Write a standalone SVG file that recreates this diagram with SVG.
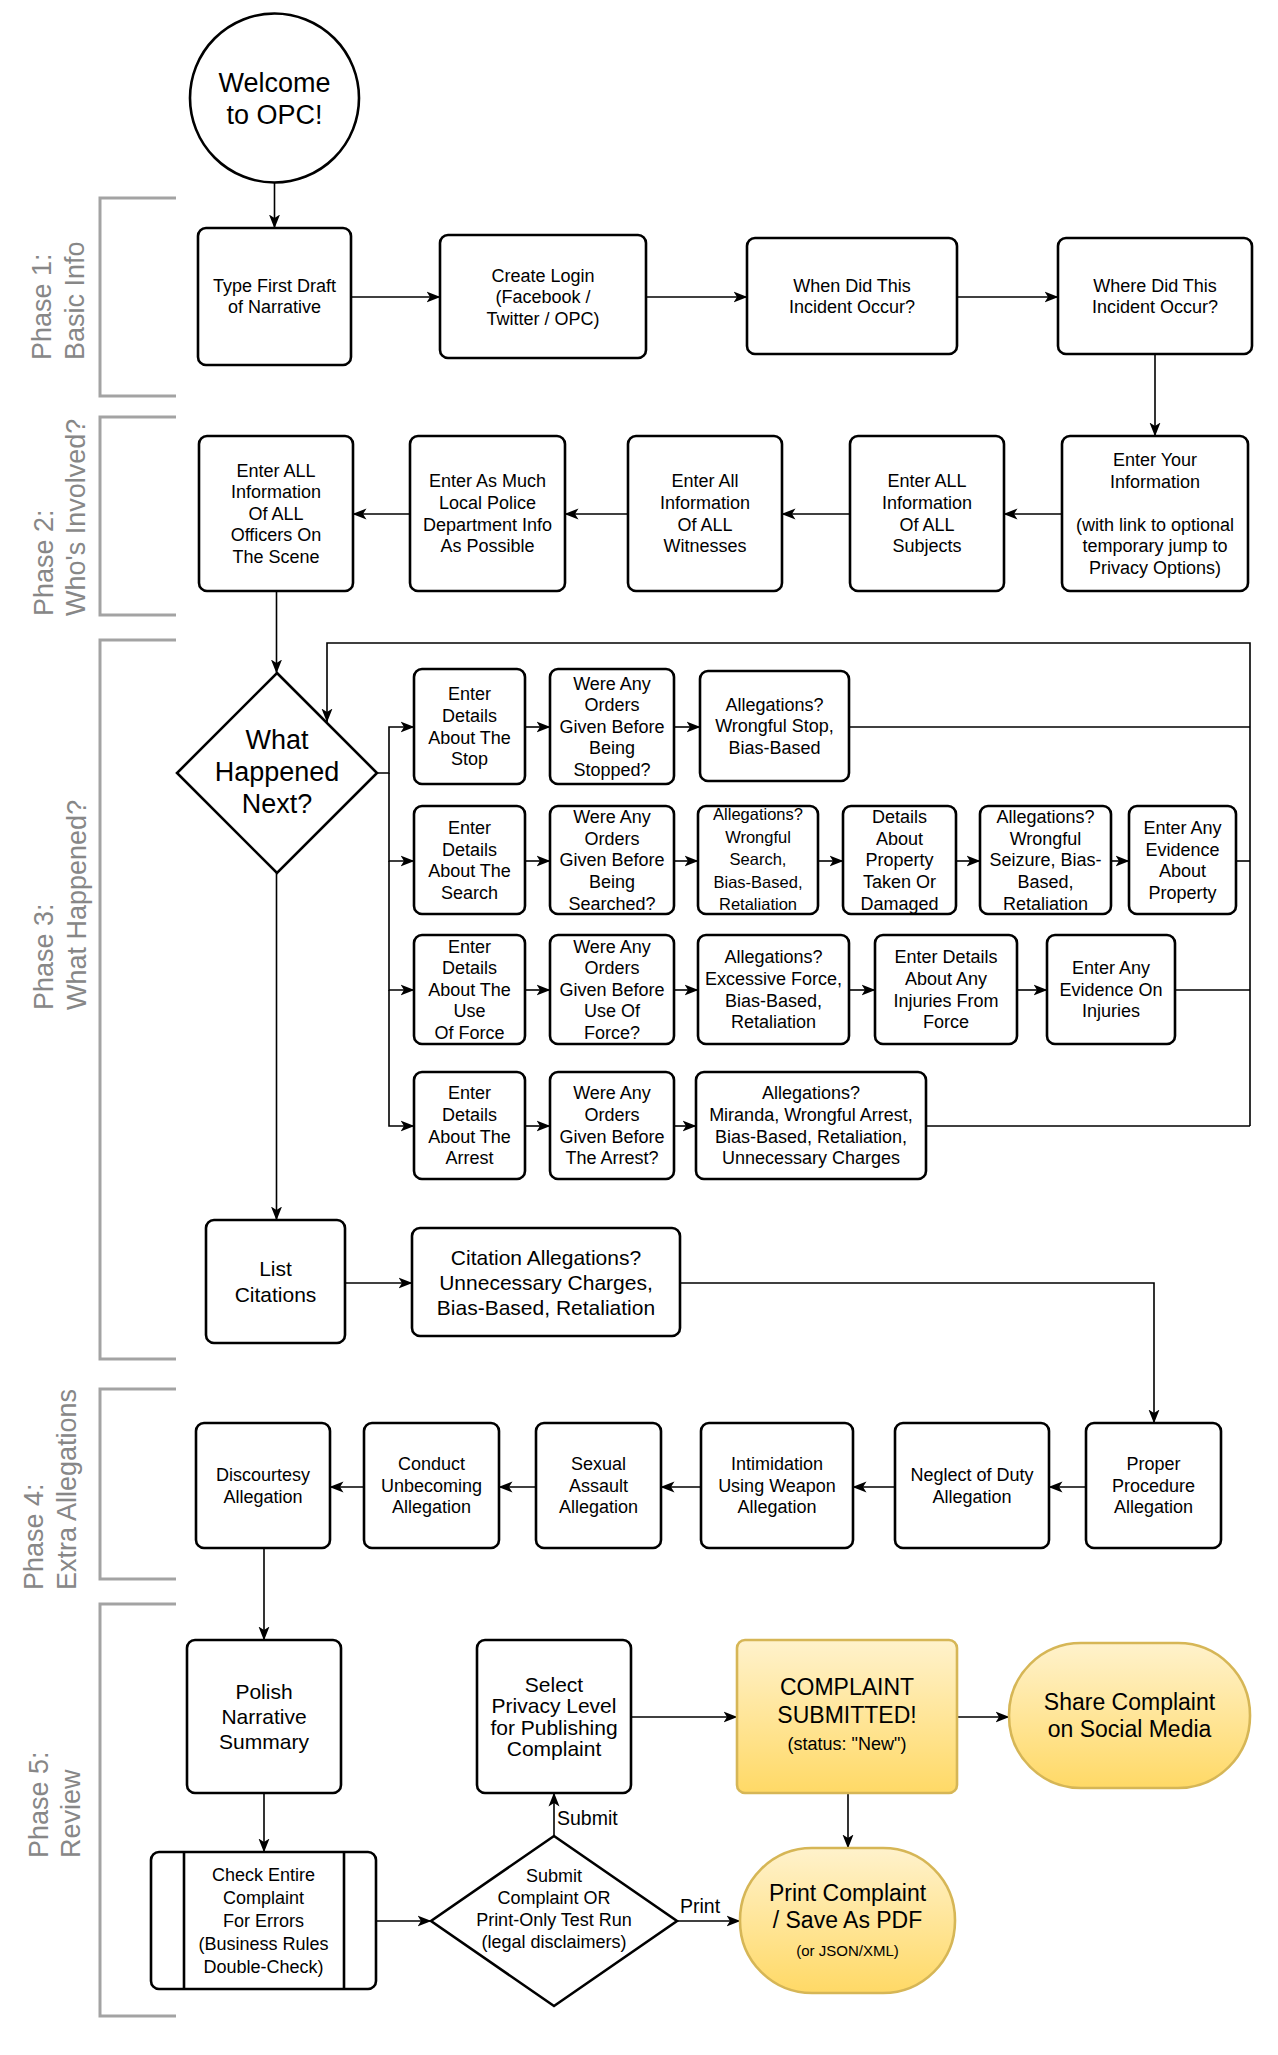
<svg xmlns="http://www.w3.org/2000/svg" width="1278" height="2055" viewBox="0 0 1278 2055">
<defs>
<style>
.n{fill:#fff;stroke:#000;stroke-width:2.6}
.y{fill:url(#gy);stroke:#d6b656;stroke-width:2.6}
.c{fill:none;stroke:#000;stroke-width:1.6}
.br{fill:none;stroke:#a3a3a3;stroke-width:3}
text{font-family:"Liberation Sans",Arial,Helvetica,sans-serif;fill:#000}
.t{text-anchor:middle;font-size:18px}
.t21{text-anchor:middle;font-size:21px}
.t23{text-anchor:middle;font-size:23px}
.t27{text-anchor:middle;font-size:27px}
.ph{font-size:27px;fill:#878787}
.lb{font-size:19.5px}
</style>
<linearGradient id="gy" x1="0" y1="0" x2="0" y2="1"><stop offset="0" stop-color="#fff2cc"/><stop offset="1" stop-color="#ffd966"/></linearGradient>
<marker id="ah" viewBox="0 0 14 12" refX="13.5" refY="6" markerWidth="14" markerHeight="12" orient="auto" markerUnits="userSpaceOnUse"><path d="M0,0.5 L14,6 L0,11.5 L3.5,6 Z" fill="#000"/></marker>
</defs>
<rect width="1278" height="2055" fill="#fff"/>

<g id="phases">
<path class="br" d="M176,198 H100 V396 H176"/>
<path class="br" d="M176,417 H100 V615 H176"/>
<path class="br" d="M176,640 H100 V1359 H176"/>
<path class="br" d="M176,1389 H100 V1579 H176"/>
<path class="br" d="M176,1604 H100 V2016 H176"/>
<text class="ph" transform="translate(51,360) rotate(-90)"><tspan x="0" y="0">Phase 1:</tspan><tspan x="0" y="33">Basic Info</tspan></text>
<text class="ph" transform="translate(53,616) rotate(-90)"><tspan x="0" y="0">Phase 2:</tspan><tspan x="0" y="32">Who's Involved?</tspan></text>
<text class="ph" transform="translate(53,1010) rotate(-90)"><tspan x="0" y="0">Phase 3:</tspan><tspan x="0" y="33">What Happened?</tspan></text>
<text class="ph" transform="translate(43,1590) rotate(-90)"><tspan x="0" y="0">Phase 4:</tspan><tspan x="0" y="32.5">Extra Allegations</tspan></text>
<text class="ph" transform="translate(48,1858) rotate(-90)"><tspan x="0" y="0">Phase 5:</tspan><tspan x="0" y="32">Review</tspan></text>
</g>

<g id="connectors">
<path class="c" marker-end="url(#ah)" d="M274.5,183 V228"/>
<path class="c" marker-end="url(#ah)" d="M351,297 H440"/>
<path class="c" marker-end="url(#ah)" d="M646,297 H747"/>
<path class="c" marker-end="url(#ah)" d="M957,297 H1058"/>
<path class="c" marker-end="url(#ah)" d="M1155,354 V436"/>
<path class="c" marker-end="url(#ah)" d="M1062,514 H1004"/>
<path class="c" marker-end="url(#ah)" d="M850,514 H782"/>
<path class="c" marker-end="url(#ah)" d="M628,514 H565"/>
<path class="c" marker-end="url(#ah)" d="M410,514 H353"/>
<path class="c" marker-end="url(#ah)" d="M276.5,591 V673"/>
<path class="c" marker-end="url(#ah)" d="M377,773 H389 V727 H414"/>
<path class="c" marker-end="url(#ah)" d="M389,773 V861 H414"/>
<path class="c" marker-end="url(#ah)" d="M389,861 V990 H414"/>
<path class="c" marker-end="url(#ah)" d="M389,990 V1126 H414"/>
<path class="c" marker-end="url(#ah)" d="M525,727 H550"/>
<path class="c" marker-end="url(#ah)" d="M674,727 H700"/>
<path class="c" marker-end="url(#ah)" d="M525,861 H550"/>
<path class="c" marker-end="url(#ah)" d="M674,861 H698"/>
<path class="c" marker-end="url(#ah)" d="M818,861 H843"/>
<path class="c" marker-end="url(#ah)" d="M956,861 H980"/>
<path class="c" marker-end="url(#ah)" d="M1111,861 H1129"/>
<path class="c" marker-end="url(#ah)" d="M525,990 H550"/>
<path class="c" marker-end="url(#ah)" d="M674,990 H698"/>
<path class="c" marker-end="url(#ah)" d="M849,990 H875"/>
<path class="c" marker-end="url(#ah)" d="M1017,990 H1047"/>
<path class="c" marker-end="url(#ah)" d="M525,1126 H550"/>
<path class="c" marker-end="url(#ah)" d="M674,1126 H696"/>
<path class="c" d="M849,727 H1250"/>
<path class="c" d="M1236,861 H1250"/>
<path class="c" d="M1175,990 H1250"/>
<path class="c" d="M926,1126 H1250"/>
<path class="c" marker-end="url(#ah)" d="M1250,1126 V643 H327 V722"/>
<path class="c" marker-end="url(#ah)" d="M276.5,873 V1220"/>
<path class="c" marker-end="url(#ah)" d="M345,1283 H412"/>
<path class="c" marker-end="url(#ah)" d="M680,1283 H1154 V1423"/>
<path class="c" marker-end="url(#ah)" d="M1086,1487 H1049"/>
<path class="c" marker-end="url(#ah)" d="M895,1487 H853"/>
<path class="c" marker-end="url(#ah)" d="M701,1487 H661"/>
<path class="c" marker-end="url(#ah)" d="M536,1487 H499"/>
<path class="c" marker-end="url(#ah)" d="M364,1487 H330"/>
<path class="c" marker-end="url(#ah)" d="M264,1548 V1640"/>
<path class="c" marker-end="url(#ah)" d="M264,1793 V1852"/>
<path class="c" marker-end="url(#ah)" d="M376,1921 H431"/>
<path class="c" marker-end="url(#ah)" d="M554,1836 V1793"/>
<text class="lb" x="557" y="1825">Submit</text>
<path class="c" marker-end="url(#ah)" d="M677,1921 H740"/>
<text class="lb" x="680" y="1913">Print</text>
<path class="c" marker-end="url(#ah)" d="M631,1717 H737"/>
<path class="c" marker-end="url(#ah)" d="M957,1717 H1009"/>
<path class="c" marker-end="url(#ah)" d="M848,1793 V1848"/>
</g>

<g id="welcome"><circle class="n" cx="274.5" cy="98" r="84.5"/><text class="t27"><tspan x="274.5" y="91.5">Welcome</tspan><tspan x="274.5" y="123.5">to OPC!</tspan></text></g>

<g id="type-first-draft"><rect class="n" x="198" y="228" width="153" height="137" rx="8"/><text class="t"><tspan x="274.5" y="291.5">Type First Draft</tspan><tspan x="274.5" y="312.5">of Narrative</tspan></text></g>
<g id="create-login"><rect class="n" x="440" y="235" width="206" height="123" rx="8"/><text class="t"><tspan x="543" y="281.5">Create Login</tspan><tspan x="543" y="303">(Facebook /</tspan><tspan x="543" y="324.5">Twitter / OPC)</tspan></text></g>
<g id="when"><rect class="n" x="747" y="238" width="210" height="116" rx="8"/><text class="t"><tspan x="852" y="291.5">When Did This</tspan><tspan x="852" y="312.5">Incident Occur?</tspan></text></g>
<g id="where"><rect class="n" x="1058" y="238" width="194" height="116" rx="8"/><text class="t"><tspan x="1155" y="291.5">Where Did This</tspan><tspan x="1155" y="312.5">Incident Occur?</tspan></text></g>

<g id="officers"><rect class="n" x="199" y="436" width="154" height="155" rx="8"/><text class="t"><tspan x="276" y="476.6">Enter ALL</tspan><tspan x="276" y="498.2">Information</tspan><tspan x="276" y="519.8">Of ALL</tspan><tspan x="276" y="541.4">Officers On</tspan><tspan x="276" y="563">The Scene</tspan></text></g>
<g id="police-dept"><rect class="n" x="410" y="436" width="155" height="155" rx="8"/><text class="t"><tspan x="487.5" y="487.4">Enter As Much</tspan><tspan x="487.5" y="509">Local Police</tspan><tspan x="487.5" y="530.6">Department Info</tspan><tspan x="487.5" y="552.2">As Possible</tspan></text></g>
<g id="witnesses"><rect class="n" x="628" y="436" width="154" height="155" rx="8"/><text class="t"><tspan x="705" y="487.4">Enter All</tspan><tspan x="705" y="509">Information</tspan><tspan x="705" y="530.6">Of ALL</tspan><tspan x="705" y="552.2">Witnesses</tspan></text></g>
<g id="subjects"><rect class="n" x="850" y="436" width="154" height="155" rx="8"/><text class="t"><tspan x="927" y="487.4">Enter ALL</tspan><tspan x="927" y="509">Information</tspan><tspan x="927" y="530.6">Of ALL</tspan><tspan x="927" y="552.2">Subjects</tspan></text></g>
<g id="your-info"><rect class="n" x="1062" y="436" width="186" height="155" rx="8"/><text class="t"><tspan x="1155" y="466">Enter Your</tspan><tspan x="1155" y="487.5">Information</tspan><tspan x="1155" y="530.5">(with link to optional</tspan><tspan x="1155" y="552">temporary jump to</tspan><tspan x="1155" y="573.5">Privacy Options)</tspan></text></g>

<g id="what-happened"><polygon class="n" points="277,673 377,773 277,873 177,773"/><text class="t27"><tspan x="277" y="748.5">What</tspan><tspan x="277" y="780.5">Happened</tspan><tspan x="277" y="812.5">Next?</tspan></text></g>

<g id="stop-details"><rect class="n" x="414" y="669" width="111" height="115" rx="8"/><text class="t"><tspan x="469.5" y="700.4">Enter</tspan><tspan x="469.5" y="722">Details</tspan><tspan x="469.5" y="743.6">About The</tspan><tspan x="469.5" y="765.2">Stop</tspan></text></g>
<g id="stop-orders"><rect class="n" x="550" y="669" width="124" height="115" rx="8"/><text class="t"><tspan x="612" y="689.6">Were Any</tspan><tspan x="612" y="711.2">Orders</tspan><tspan x="612" y="732.8">Given Before</tspan><tspan x="612" y="754.4">Being</tspan><tspan x="612" y="776">Stopped?</tspan></text></g>
<g id="stop-allegations"><rect class="n" x="700" y="671" width="149" height="110" rx="8"/><text class="t"><tspan x="774.5" y="710.7">Allegations?</tspan><tspan x="774.5" y="732.3">Wrongful Stop,</tspan><tspan x="774.5" y="753.9">Bias-Based</tspan></text></g>

<g id="search-details"><rect class="n" x="414" y="806" width="111" height="108" rx="8"/><text class="t"><tspan x="469.5" y="833.9">Enter</tspan><tspan x="469.5" y="855.5">Details</tspan><tspan x="469.5" y="877.1">About The</tspan><tspan x="469.5" y="898.7">Search</tspan></text></g>
<g id="search-orders"><rect class="n" x="550" y="806" width="124" height="108" rx="8"/><text class="t"><tspan x="612" y="823.1">Were Any</tspan><tspan x="612" y="844.7">Orders</tspan><tspan x="612" y="866.3">Given Before</tspan><tspan x="612" y="887.9">Being</tspan><tspan x="612" y="909.5">Searched?</tspan></text></g>
<g id="search-allegations"><rect class="n" x="698" y="806" width="120" height="108" rx="8"/><text class="t" style="font-size:16.5px"><tspan x="758" y="820">Allegations?</tspan><tspan x="758" y="842.5">Wrongful</tspan><tspan x="758" y="865">Search,</tspan><tspan x="758" y="887.5">Bias-Based,</tspan><tspan x="758" y="910">Retaliation</tspan></text></g>
<g id="property-details"><rect class="n" x="843" y="806" width="113" height="108" rx="8"/><text class="t"><tspan x="899.5" y="823.1">Details</tspan><tspan x="899.5" y="844.7">About</tspan><tspan x="899.5" y="866.3">Property</tspan><tspan x="899.5" y="887.9">Taken Or</tspan><tspan x="899.5" y="909.5">Damaged</tspan></text></g>
<g id="seizure-allegations"><rect class="n" x="980" y="806" width="131" height="108" rx="8"/><text class="t"><tspan x="1045.5" y="823.1">Allegations?</tspan><tspan x="1045.5" y="844.7">Wrongful</tspan><tspan x="1045.5" y="866.3">Seizure, Bias-</tspan><tspan x="1045.5" y="887.9">Based,</tspan><tspan x="1045.5" y="909.5">Retaliation</tspan></text></g>
<g id="property-evidence"><rect class="n" x="1129" y="806" width="107" height="108" rx="8"/><text class="t"><tspan x="1182.5" y="833.9">Enter Any</tspan><tspan x="1182.5" y="855.5">Evidence</tspan><tspan x="1182.5" y="877.1">About</tspan><tspan x="1182.5" y="898.7">Property</tspan></text></g>

<g id="force-details"><rect class="n" x="414" y="935" width="111" height="109" rx="8"/><text class="t"><tspan x="469.5" y="952.6">Enter</tspan><tspan x="469.5" y="974.2">Details</tspan><tspan x="469.5" y="995.8">About The</tspan><tspan x="469.5" y="1017.4">Use</tspan><tspan x="469.5" y="1039">Of Force</tspan></text></g>
<g id="force-orders"><rect class="n" x="550" y="935" width="124" height="109" rx="8"/><text class="t"><tspan x="612" y="952.6">Were Any</tspan><tspan x="612" y="974.2">Orders</tspan><tspan x="612" y="995.8">Given Before</tspan><tspan x="612" y="1017.4">Use Of</tspan><tspan x="612" y="1039">Force?</tspan></text></g>
<g id="force-allegations"><rect class="n" x="698" y="935" width="151" height="109" rx="8"/><text class="t"><tspan x="773.5" y="963.4">Allegations?</tspan><tspan x="773.5" y="985">Excessive Force,</tspan><tspan x="773.5" y="1006.6">Bias-Based,</tspan><tspan x="773.5" y="1028.2">Retaliation</tspan></text></g>
<g id="injuries-details"><rect class="n" x="875" y="935" width="142" height="109" rx="8"/><text class="t"><tspan x="946" y="963.4">Enter Details</tspan><tspan x="946" y="985">About Any</tspan><tspan x="946" y="1006.6">Injuries From</tspan><tspan x="946" y="1028.2">Force</tspan></text></g>
<g id="injuries-evidence"><rect class="n" x="1047" y="935" width="128" height="109" rx="8"/><text class="t"><tspan x="1111" y="974.2">Enter Any</tspan><tspan x="1111" y="995.8">Evidence On</tspan><tspan x="1111" y="1017.4">Injuries</tspan></text></g>

<g id="arrest-details"><rect class="n" x="414" y="1072" width="111" height="107" rx="8"/><text class="t"><tspan x="469.5" y="1099.4">Enter</tspan><tspan x="469.5" y="1121">Details</tspan><tspan x="469.5" y="1142.6">About The</tspan><tspan x="469.5" y="1164.2">Arrest</tspan></text></g>
<g id="arrest-orders"><rect class="n" x="550" y="1072" width="124" height="107" rx="8"/><text class="t"><tspan x="612" y="1099.4">Were Any</tspan><tspan x="612" y="1121">Orders</tspan><tspan x="612" y="1142.6">Given Before</tspan><tspan x="612" y="1164.2">The Arrest?</tspan></text></g>
<g id="arrest-allegations"><rect class="n" x="696" y="1072" width="230" height="107" rx="8"/><text class="t"><tspan x="811" y="1099.4">Allegations?</tspan><tspan x="811" y="1121">Miranda, Wrongful Arrest,</tspan><tspan x="811" y="1142.6">Bias-Based, Retaliation,</tspan><tspan x="811" y="1164.2">Unnecessary Charges</tspan></text></g>

<g id="list-citations"><rect class="n" x="206" y="1220" width="139" height="123" rx="8"/><text class="t21"><tspan x="275.5" y="1276.3">List</tspan><tspan x="275.5" y="1301.5">Citations</tspan></text></g>
<g id="citation-allegations"><rect class="n" x="412" y="1228" width="268" height="108" rx="8"/><text class="t21"><tspan x="546" y="1264.5">Citation Allegations?</tspan><tspan x="546" y="1289.5">Unnecessary Charges,</tspan><tspan x="546" y="1314.5">Bias-Based, Retaliation</tspan></text></g>

<g id="discourtesy"><rect class="n" x="196" y="1423" width="134" height="125" rx="8"/><text class="t"><tspan x="263" y="1481">Discourtesy</tspan><tspan x="263" y="1502.6">Allegation</tspan></text></g>
<g id="conduct"><rect class="n" x="364" y="1423" width="135" height="125" rx="8"/><text class="t"><tspan x="431.5" y="1470.2">Conduct</tspan><tspan x="431.5" y="1491.8">Unbecoming</tspan><tspan x="431.5" y="1513.4">Allegation</tspan></text></g>
<g id="sexual-assault"><rect class="n" x="536" y="1423" width="125" height="125" rx="8"/><text class="t"><tspan x="598.5" y="1470.2">Sexual</tspan><tspan x="598.5" y="1491.8">Assault</tspan><tspan x="598.5" y="1513.4">Allegation</tspan></text></g>
<g id="intimidation"><rect class="n" x="701" y="1423" width="152" height="125" rx="8"/><text class="t"><tspan x="777" y="1470.2">Intimidation</tspan><tspan x="777" y="1491.8">Using Weapon</tspan><tspan x="777" y="1513.4">Allegation</tspan></text></g>
<g id="neglect"><rect class="n" x="895" y="1423" width="154" height="125" rx="8"/><text class="t"><tspan x="972" y="1481">Neglect of Duty</tspan><tspan x="972" y="1502.6">Allegation</tspan></text></g>
<g id="proper-procedure"><rect class="n" x="1086" y="1423" width="135" height="125" rx="8"/><text class="t"><tspan x="1153.5" y="1470.2">Proper</tspan><tspan x="1153.5" y="1491.8">Procedure</tspan><tspan x="1153.5" y="1513.4">Allegation</tspan></text></g>

<g id="polish"><rect class="n" x="187" y="1640" width="154" height="153" rx="8"/><text class="t21"><tspan x="264" y="1699">Polish</tspan><tspan x="264" y="1724">Narrative</tspan><tspan x="264" y="1749">Summary</tspan></text></g>
<g id="check"><rect class="n" x="151" y="1852" width="225" height="137" rx="8"/><path class="n" d="M184,1852 V1989 M344,1852 V1989"/><text class="t"><tspan x="263.5" y="1880.8">Check Entire</tspan><tspan x="263.5" y="1903.8">Complaint</tspan><tspan x="263.5" y="1926.8">For Errors</tspan><tspan x="263.5" y="1949.8">(Business Rules</tspan><tspan x="263.5" y="1972.8">Double-Check)</tspan></text></g>
<g id="submit-decision"><polygon class="n" points="554,1836 677,1921 554,2006 431,1921"/><text class="t"><tspan x="554" y="1882">Submit</tspan><tspan x="554" y="1904">Complaint OR</tspan><tspan x="554" y="1926">Print-Only Test Run</tspan><tspan x="554" y="1948">(legal disclaimers)</tspan></text></g>
<g id="privacy"><rect class="n" x="477" y="1640" width="154" height="153" rx="8"/><text class="t21"><tspan x="554" y="1691.5">Select</tspan><tspan x="554" y="1713">Privacy Level</tspan><tspan x="554" y="1734.7">for Publishing</tspan><tspan x="554" y="1756.4">Complaint</tspan></text></g>
<g id="submitted"><rect class="y" x="737" y="1640" width="220" height="153" rx="8"/><text class="t23"><tspan x="847" y="1695">COMPLAINT</tspan><tspan x="847" y="1722.7">SUBMITTED!</tspan></text><text class="t" x="847" y="1750">(status: "New")</text></g>
<g id="share"><rect class="y" x="1009" y="1643" width="241" height="145" rx="72"/><text class="t23"><tspan x="1129.5" y="1710">Share Complaint</tspan><tspan x="1129.5" y="1737.3">on Social Media</tspan></text></g>
<g id="print"><rect class="y" x="740" y="1848" width="215" height="145" rx="72"/><text class="t23"><tspan x="847.5" y="1900.7">Print Complaint</tspan><tspan x="847.5" y="1927.7">/ Save As PDF</tspan></text><text class="t" style="font-size:15px" x="847.5" y="1955.7">(or JSON/XML)</text></g>
</svg>
